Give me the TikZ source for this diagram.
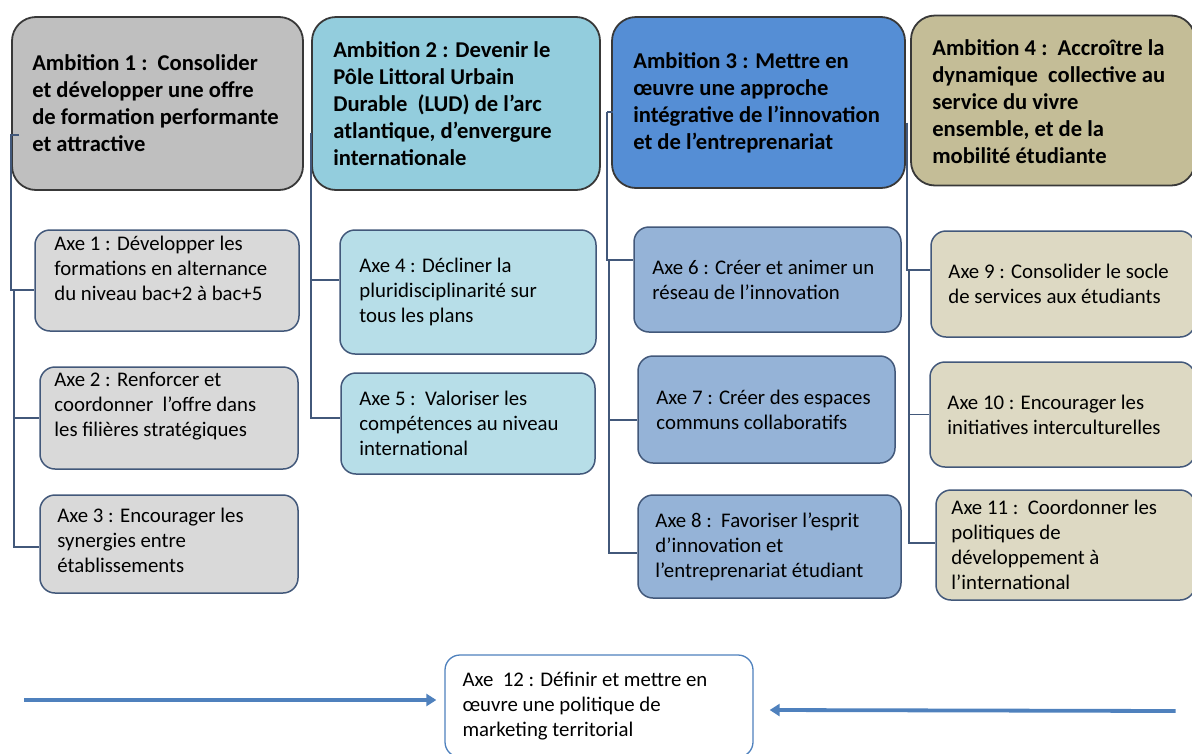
\documentclass[tikz,border=0pt]{standalone}
\usepackage{fontspec}
\setmainfont{Carlito}
\usetikzlibrary{positioning,calc,arrows.meta}

\definecolor{ambgray}{HTML}{BFBFBF}
\definecolor{ambcyan}{HTML}{93CDDD}
\definecolor{ambblue}{HTML}{558ED5}
\definecolor{ambkhaki}{HTML}{C4BD97}
\definecolor{axegray}{HTML}{D9D9D9}
\definecolor{axecyan}{HTML}{B7DEE8}
\definecolor{axeblue}{HTML}{95B3D7}
\definecolor{axekhaki}{HTML}{DDD9C3}
\definecolor{slate}{HTML}{42587A}
\definecolor{arrowblue}{HTML}{4F81BD}

\tikzset{
  ambbox/.style={rectangle,rounded corners=24pt,draw=black!78,line width=1.8pt},
  axebox/.style={rectangle,rounded corners=15pt,draw=slate,line width=1.5pt},
  ambtext/.style={inner sep=0pt,align=left,anchor=west,font=\bfseries\fontsize{22.6}{27}\selectfont},
  axetext/.style={inner sep=0pt,align=left,anchor=west,font=\fontsize{20.8}{25}\selectfont},
  link/.style={draw=slate,line width=1.6pt},
  bigarrow/.style={draw=arrowblue,line width=3.8pt,-{Triangle[length=10pt,width=12pt]}}
}

\begin{document}
\begin{tikzpicture}[x=1pt,y=-1pt]
        \useasboundingbox (0,0) rectangle (1192,753);

        % ambitions
        \node[ambbox,fill=ambgray,minimum width=291,minimum height=173] (amb1) at (157.5,103.5) {};
        \node[ambtext] (amb1-text) at ($(amb1.west)+(21,0)$) {Ambition 1 :\ \ Consolider\\et développer une offre\\de formation performante\\et attractive};

        \node[ambbox,fill=ambcyan,minimum width=288,minimum height=173] (amb2) at (456,103.5) {};
        \node[ambtext] (amb2-text) at ($(amb2.west)+(22,0)$) {Ambition 2 : Devenir le\\Pôle Littoral Urbain\\Durable\ \ (LUD) de l’arc\\atlantique, d’envergure\\internationale};

        \node[ambbox,fill=ambblue,minimum width=293,minimum height=171] (amb3) at (758.5,102.5) {};
        \node[ambtext] (amb3-text) at ($(amb3.west)+(22,0)$) {Ambition 3 : Mettre en\\œuvre une approche\\intégrative de l’innovation\\et de l’entreprenariat};

        \node[ambbox,fill=ambkhaki,minimum width=284,minimum height=170] (amb4) at (1053,100.5) {};
        \node[ambtext] (amb4-text) at ($(amb4.west)+(22,1.5)$) {Ambition 4 :\ \ Accroître la\\dynamique\ \ collective au\\service du vivre\\ensemble, et de la\\mobilité étudiante};

        % axes, column 1
        \node[axebox,fill=axegray,minimum width=264,minimum height=101] (x1) at (167,280.5) {};
        \node[axetext] (x1-text) at ($(x1.west)+(20,-12.5)$) {Axe 1 : Développer les\\formations en alternance\\du niveau bac+2 à bac+5};
        \node[axebox,fill=axegray,minimum width=258,minimum height=102] (x2) at (169,418) {};
        \node[axetext] (x2-text) at ($(x2.west)+(15,-12)$) {Axe 2 : Renforcer et\\coordonner\ \ l’offre dans\\les filières stratégiques};
        \node[axebox,fill=axegray,minimum width=258,minimum height=98] (x3) at (169,544) {};
        \node[axetext] (x3-text) at ($(x3.west)+(18,-4)$) {Axe 3 : Encourager les\\synergies entre\\établissements};

        % axes, column 2
        \node[axebox,fill=axecyan,minimum width=256,minimum height=124] (x4) at (468,292) {};
        \node[axetext] (x4-text) at ($(x4.west)+(20,0)$) {Axe 4 : Décliner la\\pluridisciplinarité sur\\tous les plans};
        \node[axebox,fill=axecyan,minimum width=254,minimum height=101] (x5) at (468,423.5) {};
        \node[axetext] (x5-text) at ($(x5.west)+(19,0)$) {Axe 5 :\ \ Valoriser les\\compétences au niveau\\international};

        % axes, column 3
        \node[axebox,fill=axeblue,minimum width=267,minimum height=105] (x6) at (767.5,279.5) {};
        \node[axetext] (x6-text) at ($(x6.west)+(19,0)$) {Axe 6 : Créer et animer un\\réseau de l’innovation};
        \node[axebox,fill=axeblue,minimum width=257,minimum height=107] (x7) at (766.5,409.5) {};
        \node[axetext] (x7-text) at ($(x7.west)+(19,0)$) {Axe 7 : Créer des espaces\\communs collaboratifs};
        \node[axebox,fill=axeblue,minimum width=263,minimum height=103] (x8) at (769.5,546.5) {};
        \node[axetext] (x8-text) at ($(x8.west)+(18,0)$) {Axe 8 :\ \ Favoriser l’esprit\\d’innovation et\\l’entreprenariat étudiant};

        % axes, column 4
        \node[axebox,fill=axekhaki,minimum width=264,minimum height=106] (x9) at (1063,284) {};
        \node[axetext] (x9-text) at ($(x9.west)+(18,0)$) {Axe 9 : Consolider le socle\\de services aux étudiants};
        \node[axebox,fill=axekhaki,minimum width=265,minimum height=105] (x10) at (1062.5,414.5) {};
        \node[axetext] (x10-text) at ($(x10.west)+(18,0)$) {Axe 10 : Encourager les\\initiatives interculturelles};
        \node[axebox,fill=axekhaki,minimum width=259,minimum height=110] (x11) at (1065.5,545) {};
        \node[axetext] (x11-text) at ($(x11.west)+(16,0)$) {Axe 11 :\ \ Coordonner les\\politiques de\\développement à\\l’international};

        % axe 12
        \node[axebox,draw=arrowblue,fill=white,line width=1.3pt,minimum width=308,minimum height=102] (x12) at (599,706) {};
        \node[axetext] (x12-text) at ($(x12.west)+(18,0)$) {Axe\ \ 12 : Définir et mettre en\\œuvre une politique de\\marketing territorial};

        % tree links
        \draw[link] ($(amb1.west)+(8,31.5)$) -- ($(amb1.west)+(0,31.5)$) |- ($(x1.west)+(0,9.5)$);
        \coordinate (col1) at ($(x1.west)+(-20,9.5)$);
        \draw[link] (col1) |- (x2.west);
        \draw[link] (col1) |- ($(x3.west)+(0,3)$);

        \coordinate (col2) at ($(amb2.west)+(0,29.5)$);
        \draw[link] (col2) |- ($(x4.west)+(0,-12)$);
        \draw[link] (col2) |- ($(x5.west)+(0,-5.5)$);

        \coordinate (col3) at ($(amb3.west)+(-4,9.5)$);
        \draw[link] (col3) -- ++(6,0);
        \draw[link] (col3) |- ($(x6.west)+(0,-19.5)$);
        \coordinate (col3b) at ($(x6.west)+(-24,-19.5)$);
        \draw[link] (col3b) |- ($(x7.west)+(0,10.5)$);
        \draw[link] (col3b) |- ($(x8.west)+(0,6.5)$);

        \coordinate (col4) at ($(amb4.west)+(-3,22)$);
        \draw[link] (col4) |- ($(x9.west)+(0,-14)$);
        \coordinate (col4b) at ($(x9.west)+(-21,-14)$);
        \draw[link] (col4b) |- (x10.west);
        \draw[link] (col4b) |- ($(x11.west)+(0,-2)$);

        % arrows to axe 12
        \coordinate (leftend) at ($(x12.west)+(-420,-6)$);
        \coordinate (rightend) at ($(x12.east)+(422,5)$);
        \draw[bigarrow] (leftend) -- ($(x12.west)+(-8,-6)$);
        \draw[bigarrow] (rightend) -- ($(x12.east)+(16,4)$);
\end{tikzpicture}
\end{document}
